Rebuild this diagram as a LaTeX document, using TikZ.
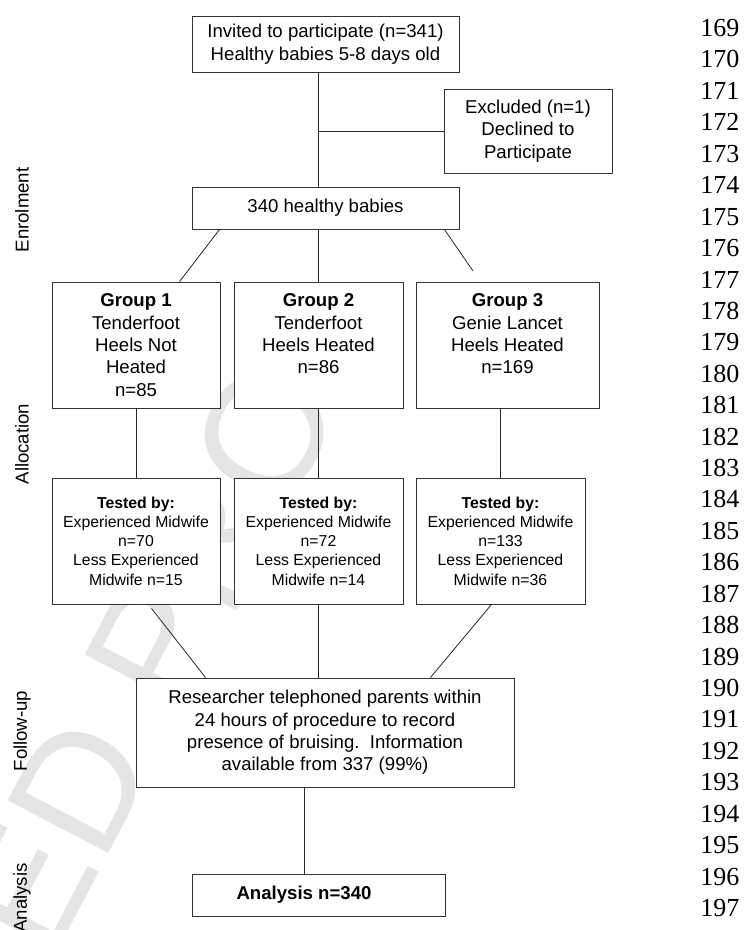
\documentclass[tikz,border=0pt]{standalone}
\usepackage{fontspec}
\setmainfont{Liberation Sans}
\newfontfamily\lnfont{Liberation Serif}
\usetikzlibrary{calc}
\begin{document}
\begin{tikzpicture}[x=1pt,y=-1pt,
  box/.style={draw=black!80, line width=0.9pt, fill=white, inner sep=0pt, align=center},
  big/.style={font=\fontsize{18.6}{22.4}\selectfont},
  small/.style={font=\fontsize{15.8}{19.3}\selectfont},
  conn/.style={draw=black!85, line width=0.8pt},
  side/.style={rotate=90, font=\fontsize{18.6}{22}\selectfont},
  lnum/.style={anchor=east, font=\lnfont\fontsize{26}{26}\selectfont},
  wmark/.style={rotate=62.4, text=black!10, font=\fontsize{165}{165}\selectfont}]
\useasboundingbox (0,0) rectangle (745,930);
\fill[white] (0,0) rectangle (745,930);
\clip (0,0) rectangle (745,930);

% watermark (only its lower part shows)
\begin{scope}
\clip (0,282) rectangle (745,930);
\node[wmark] (wm) at (-43,1022) {UNCORRECTED PROOF};
\end{scope}

% boxes
\node[box, big, minimum width=267pt, minimum height=56pt] (top) at (325.5,44)
  {Invited to participate (n=341)\\Healthy babies 5-8 days old};
\node[box, big, minimum width=168pt, minimum height=84pt] (ex) at (528,131)
  {Excluded (n=1)\\Declined to\\Participate};
\node[box, big, minimum width=267pt, minimum height=42pt] (hb) at (325.5,208)
  {340 healthy babies};

\node[box, big, minimum width=168pt, minimum height=126pt] (g1) at (136,345)
  {\textbf{Group 1}\\Tenderfoot\\Heels Not\\Heated\\n=85};
\node[box, big, minimum width=169pt, minimum height=126pt] (g2) at (318.5,345)
  {\textbf{Group 2}\\Tenderfoot\\Heels Heated\\n=86\\\mbox{}};
\node[box, big, minimum width=183pt, minimum height=126pt] (g3) at (507.5,345)
  {\textbf{Group 3}\\Genie Lancet\\Heels Heated\\n=169\\\mbox{}};

\node[box, small, minimum width=168pt, minimum height=126pt] (t1) at (136,541)
  {\textbf{Tested by:}\\Experienced Midwife\\n=70\\Less Experienced\\Midwife n=15};
\node[box, small, minimum width=169pt, minimum height=126pt] (t2) at (318.5,541)
  {\textbf{Tested by:}\\Experienced Midwife\\n=72\\Less Experienced\\Midwife n=14};
\node[box, small, minimum width=169pt, minimum height=126pt] (t3) at (500.5,541)
  {\textbf{Tested by:}\\Experienced Midwife\\n=133\\Less Experienced\\Midwife n=36};

\node[box, big, minimum width=378pt, minimum height=109pt] (rs) at (325,732.5)
  {Researcher telephoned parents within\\24 hours of procedure to record\\presence of bruising.\ \ Information\\available from 337 (99\%)};

\node[box, minimum width=253pt, minimum height=42pt] (an) at (318.5,895) {};
\node[big, inner sep=0pt] (ant) at (304,895) {\bfseries Analysis n=340};

% connectors
\coordinate (spine) at (318,131);
\coordinate (c3) at (473,271);
\draw[conn] (top.south -| spine) -- (hb.north -| spine);
\draw[conn] (spine) -- (ex.west);
\draw[conn] ([xshift=28pt]hb.south west) -- ([xshift=128pt]g1.north west);
\draw[conn] (hb.south -| g2.north) -- (g2.north);
\draw[conn] ([xshift=-15pt]hb.south east) -- (c3);
\draw[conn] (g1.south) -- (t1.north);
\draw[conn] (g2.south) -- (t2.north);
\draw[conn] (g3.south -| t3.north) -- (t3.north);
\draw[conn] ([xshift=100pt,yshift=-4pt]t1.south west) -- ([xshift=70pt]rs.north west);
\draw[conn] (t2.south) -- (rs.north -| t2.south);
\draw[conn] ([xshift=-94pt]t3.south east) -- ([xshift=-84pt]rs.north east);
\draw[conn] (rs.south -| ant) -- (an.north -| ant);

% side labels
\node[side] (lenrol) at (22,210) {Enrolment};
\node[side] (lalloc) at (22,444) {Allocation};
\node[side] (lfollow) at (22,731) {Follow-up};
\node[side] (lanal) at (22,898) {Analysis};

% line numbers
\foreach \i in {0,...,28} {
  \pgfmathtruncatemacro{\num}{169+\i}
  \node[lnum] (ln\i) at (743,{28+31.43*\i}) {\num};
}
\end{tikzpicture}
\end{document}
